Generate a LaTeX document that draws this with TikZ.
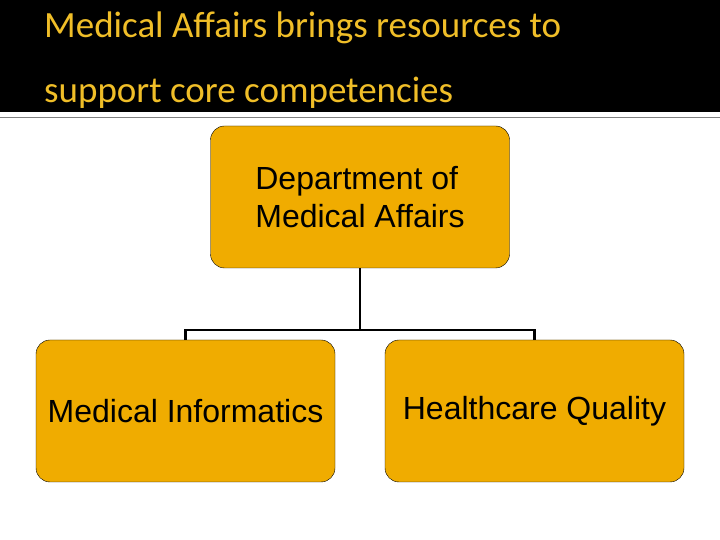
\documentclass[tikz,border=0pt]{standalone}
\usepackage{fontspec}
\setmainfont{Liberation Sans}
\newfontfamily\titlefont{Carlito}
\definecolor{boxorange}{RGB}{240,172,0}
\definecolor{titleyellow}{RGB}{240,190,40}
\tikzset{unit/.style={draw=black, fill=boxorange, rounded corners=14pt, minimum width=299pt, minimum height=142pt, font=\fontsize{32}{38}\selectfont, align=left}}
\begin{document}
\begin{tikzpicture}[x=1pt,y=1pt]
\useasboundingbox (0,0) rectangle (720,540);
\fill [color=black] (0,428) rectangle (720,540) ;
\draw [color=gray, thick] (0,423) -- (720,423) ;
\node [anchor=north west, inner sep=0pt, text=titleyellow, font=\titlefont\fontsize{37}{65}\selectfont, align=left] (title) at (44,528) {Medical Affairs brings resources to\\support core competencies};

\node [unit] (dept) at (360,343) {Department of\\Medical Affairs};
\node [unit] (info) at (185.5,129) {Medical Informatics};
\node [unit] (qual) at (534.5,129) {Healthcare Quality};

\coordinate (mid) at (360,210) ;
\draw [line width=2.5pt] (dept.south) -- (mid) ;
\draw [line width=2.5pt] (info.north) |- (mid) -| (qual.north) ;
\end{tikzpicture}
\end{document}
